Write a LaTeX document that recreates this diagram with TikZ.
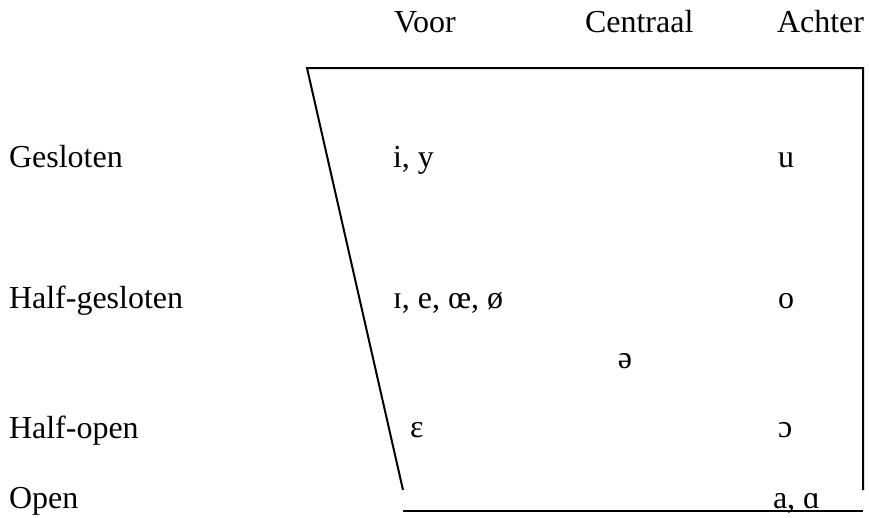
\documentclass[tikz,border=0pt]{standalone}
\usepackage{fontspec}
\setmainfont{Liberation Serif}
\usepackage{tikz}
\usetikzlibrary{calc,positioning}
\tikzset{
 vc frame/.style={line width=1.5pt,line join=miter},
 vc text/.style={inner sep=0pt,outer sep=0pt,anchor=base west,
                 font=\fontsize{24}{28}\selectfont},
 vc head/.style={vc text},
 vc row/.style={vc text},
 vc vowel/.style={vc text}
}

\begin{document}
\begin{tikzpicture}[x=0.75pt,y=-0.75pt]
 \useasboundingbox (0,0) rectangle (869,518);
 % corners of the vowel quadrilateral (pixel grid, y downwards)
 \coordinate (tl) at (307,68);
 \coordinate (tr) at (863,68);
 \coordinate (br) at (863,490);
 \coordinate (bl) at (403,490);
 \coordinate (ol) at (403,511);
 \coordinate (or) at (863,511);

 \draw[vc frame] (bl)--(tl)--(tr)--(br);
 \draw[vc frame] (ol)--(or);

 \node[vc head] (voor) at (394,32) {Voor};
 \node[vc head] (centraal) at (585,32) {Centraal};
 \node[vc head] (achter) at (777,32) {Achter};

 \node[vc row] (gesloten) at (9,167) {Gesloten};
 \node[vc row] (halfgesl) at (9,308) {Half-gesloten};
 \node[vc row] (halfopen) at (9,438) {Half-open};
 \node[vc row] (open) at (9,508) {Open};

 \node[vc vowel] (iy) at (393,167) {i, y};
 \node[vc vowel] (u) at (778,167) {u};
 \node[vc vowel] (ie) at (393,308) {ɪ, e, œ, ø};
 \node[vc vowel] (o) at (778,308) {o};
 \node[vc vowel,anchor=base] (schwa) at (625,368) {ə};
 \node[vc vowel] (eps) at (410,437) {ɛ};
 \node[vc vowel] (oo) at (778,437) {ɔ};
 \node[vc vowel] (aa) at (773,508) {a, ɑ};
\end{tikzpicture}
\end{document}
